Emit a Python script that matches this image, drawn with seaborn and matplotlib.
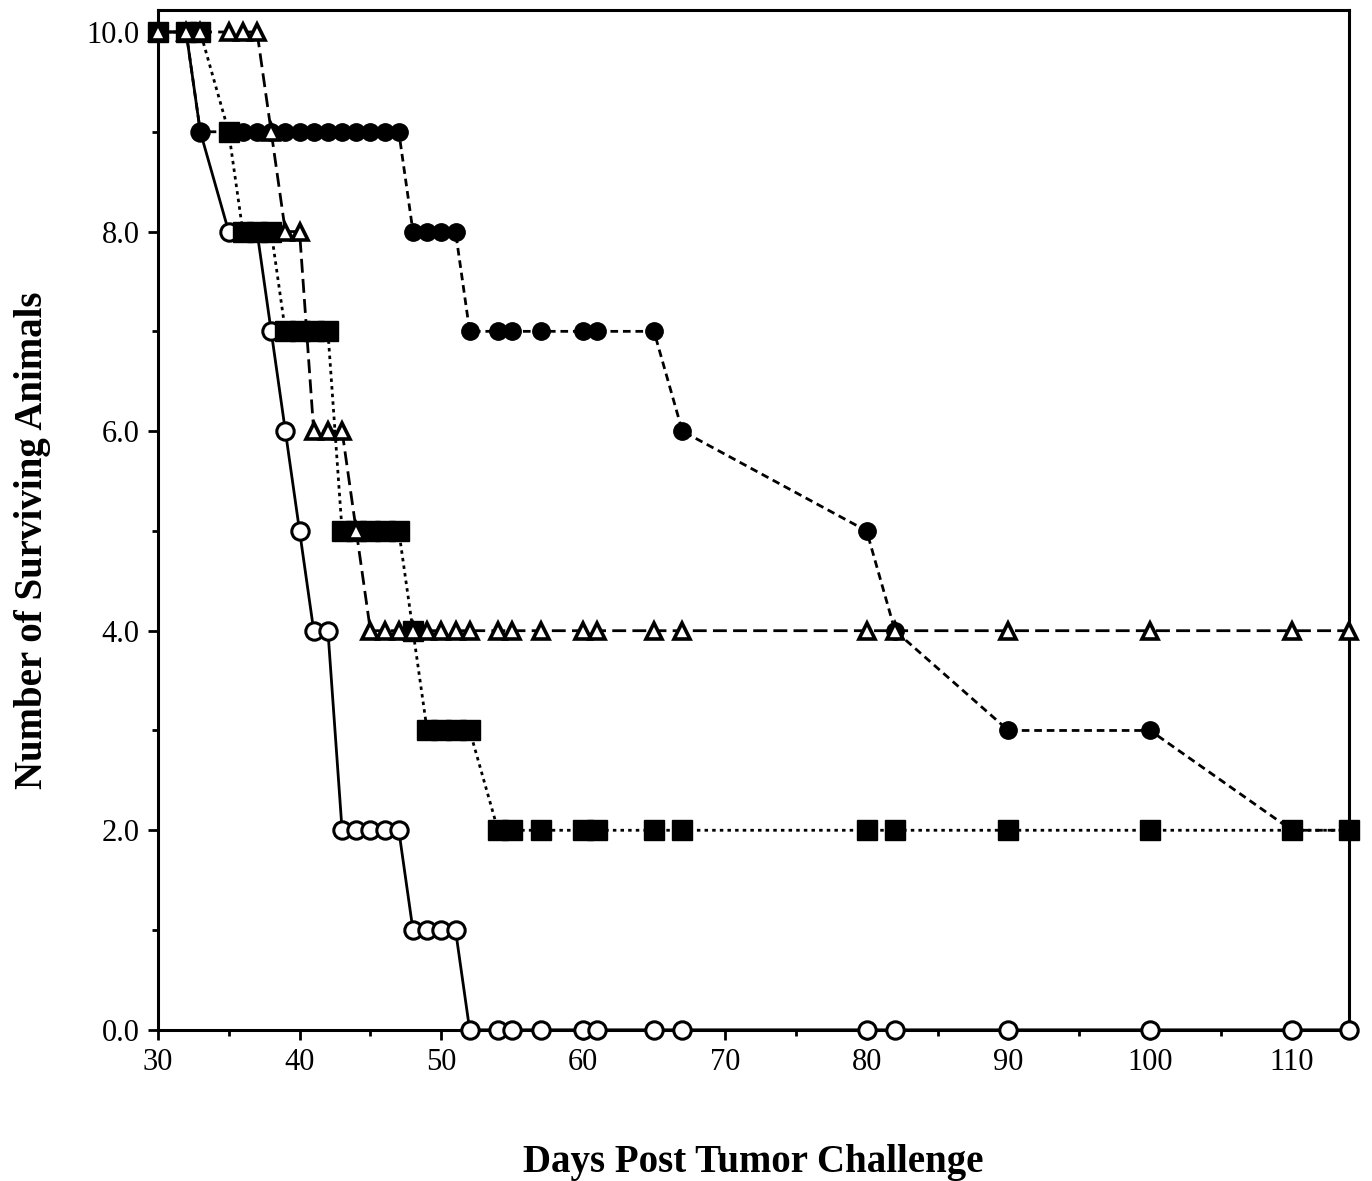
import numpy as np
import pandas as pd
import matplotlib
matplotlib.use("Agg")
import matplotlib.pyplot as plt
import seaborn as sns
from matplotlib.ticker import MultipleLocator, FormatStrFormatter

# Data
days = [30, 32, 33, 35, 36, 37, 38, 39, 40, 41,
        42, 43, 44, 45, 46, 47, 48, 49, 50, 51,
        52, 54, 55, 57, 60, 61, 65, 67, 80, 82,
        90, 100, 110, 114]
open_circle = [10, 10, 9, 8, 8, 8, 7, 6, 5, 4,
               4, 2, 2, 2, 2, 2, 1, 1, 1, 1,
               0, 0, 0, 0, 0, 0, 0, 0, 0, 0,
               0, 0, 0, 0]
filled_circle = [10, 10, 9, 9, 9, 9, 9, 9, 9, 9,
                 9, 9, 9, 9, 9, 9, 8, 8, 8, 8,
                 7, 7, 7, 7, 7, 7, 7, 6, 5, 4,
                 3, 3, 2, 2]
filled_square = [10, 10, 10, 9, 8, 8, 8, 7, 7, 7,
                 7, 5, 5, 5, 5, 5, 4, 3, 3, 3,
                 3, 2, 2, 2, 2, 2, 2, 2, 2, 2,
                 2, 2, 2, 2]
open_triangle = [10, 10, 10, 10, 10, 10, 9, 8, 8, 6,
                 6, 6, 5, 4, 4, 4, 4, 4, 4, 4,
                 4, 4, 4, 4, 4, 4, 4, 4, 4, 4,
                 4, 4, 4, 4]

groups = ["open_circle", "filled_circle", "filled_square", "open_triangle"]
values = {"open_circle": open_circle, "filled_circle": filled_circle,
          "filled_square": filled_square, "open_triangle": open_triangle}

df = pd.concat([pd.DataFrame({"day": days, "survivors": values[g], "group": g})
                for g in groups], ignore_index=True)

# styles per group (drawing order: open circles under, triangles on top)
styles = {
    "open_circle": dict(marker="o", markersize=12.5, markerfacecolor="white",
                        markeredgewidth=2.2, linestyle="-", zorder=3),
    "filled_circle": dict(marker="o", markersize=12.5, markerfacecolor="black",
                          markeredgewidth=1, linestyle=(0, (5.5, 3.5)), zorder=4),
    "filled_square": dict(marker="s", markersize=14, markerfacecolor="black",
                          markeredgewidth=1, linestyle=(0, (2.5, 3)), zorder=5),
    "open_triangle": dict(marker="^", markersize=12, markerfacecolor="white",
                          markeredgewidth=2.6, linestyle=(0, (10, 4.5)), zorder=6),
}

sns.set_theme(style="ticks")
plt.rcParams["font.family"] = ["Liberation Serif", "DejaVu Serif"]
plt.rcParams["lines.scale_dashes"] = False

fig, ax = plt.subplots(figsize=(13.72, 11.81), dpi=100)
fig.subplots_adjust(left=0.115, right=0.983, bottom=0.128, top=0.9915)

for g in groups:
    sub = df[df["group"] == g]
    sns.lineplot(data=sub, x="day", y="survivors", ax=ax, estimator=None,
                 sort=False, color="black", linewidth=2.0,
                 markeredgecolor="black", clip_on=False, **styles[g])

ax.set_xlim(30, 114)
ax.set_ylim(0, 10.22)
ax.xaxis.set_major_locator(MultipleLocator(10))
ax.xaxis.set_minor_locator(MultipleLocator(5))
ax.yaxis.set_major_locator(MultipleLocator(2))
ax.yaxis.set_minor_locator(MultipleLocator(1))
ax.yaxis.set_major_formatter(FormatStrFormatter("%.1f"))

ax.tick_params(which="major", direction="out", length=7, width=2, labelsize=22,
               colors="black", pad=6)
ax.tick_params(which="minor", direction="out", length=4, width=2, colors="black")
ax.tick_params(top=False, right=False, which="both")

for side in ["left", "right", "top", "bottom"]:
    ax.spines[side].set_visible(True)
    ax.spines[side].set_linewidth(2.2)
    ax.spines[side].set_color("black")

ax.set_xlabel("Days Post Tumor Challenge", fontsize=28, fontweight="bold",
              color="black", labelpad=48)
ax.set_ylabel("Number of Surviving Animals", fontsize=28, fontweight="bold",
              color="black")
ax.yaxis.set_label_coords(-0.09, 0.48)

plt.savefig("out.png", dpi=100)
